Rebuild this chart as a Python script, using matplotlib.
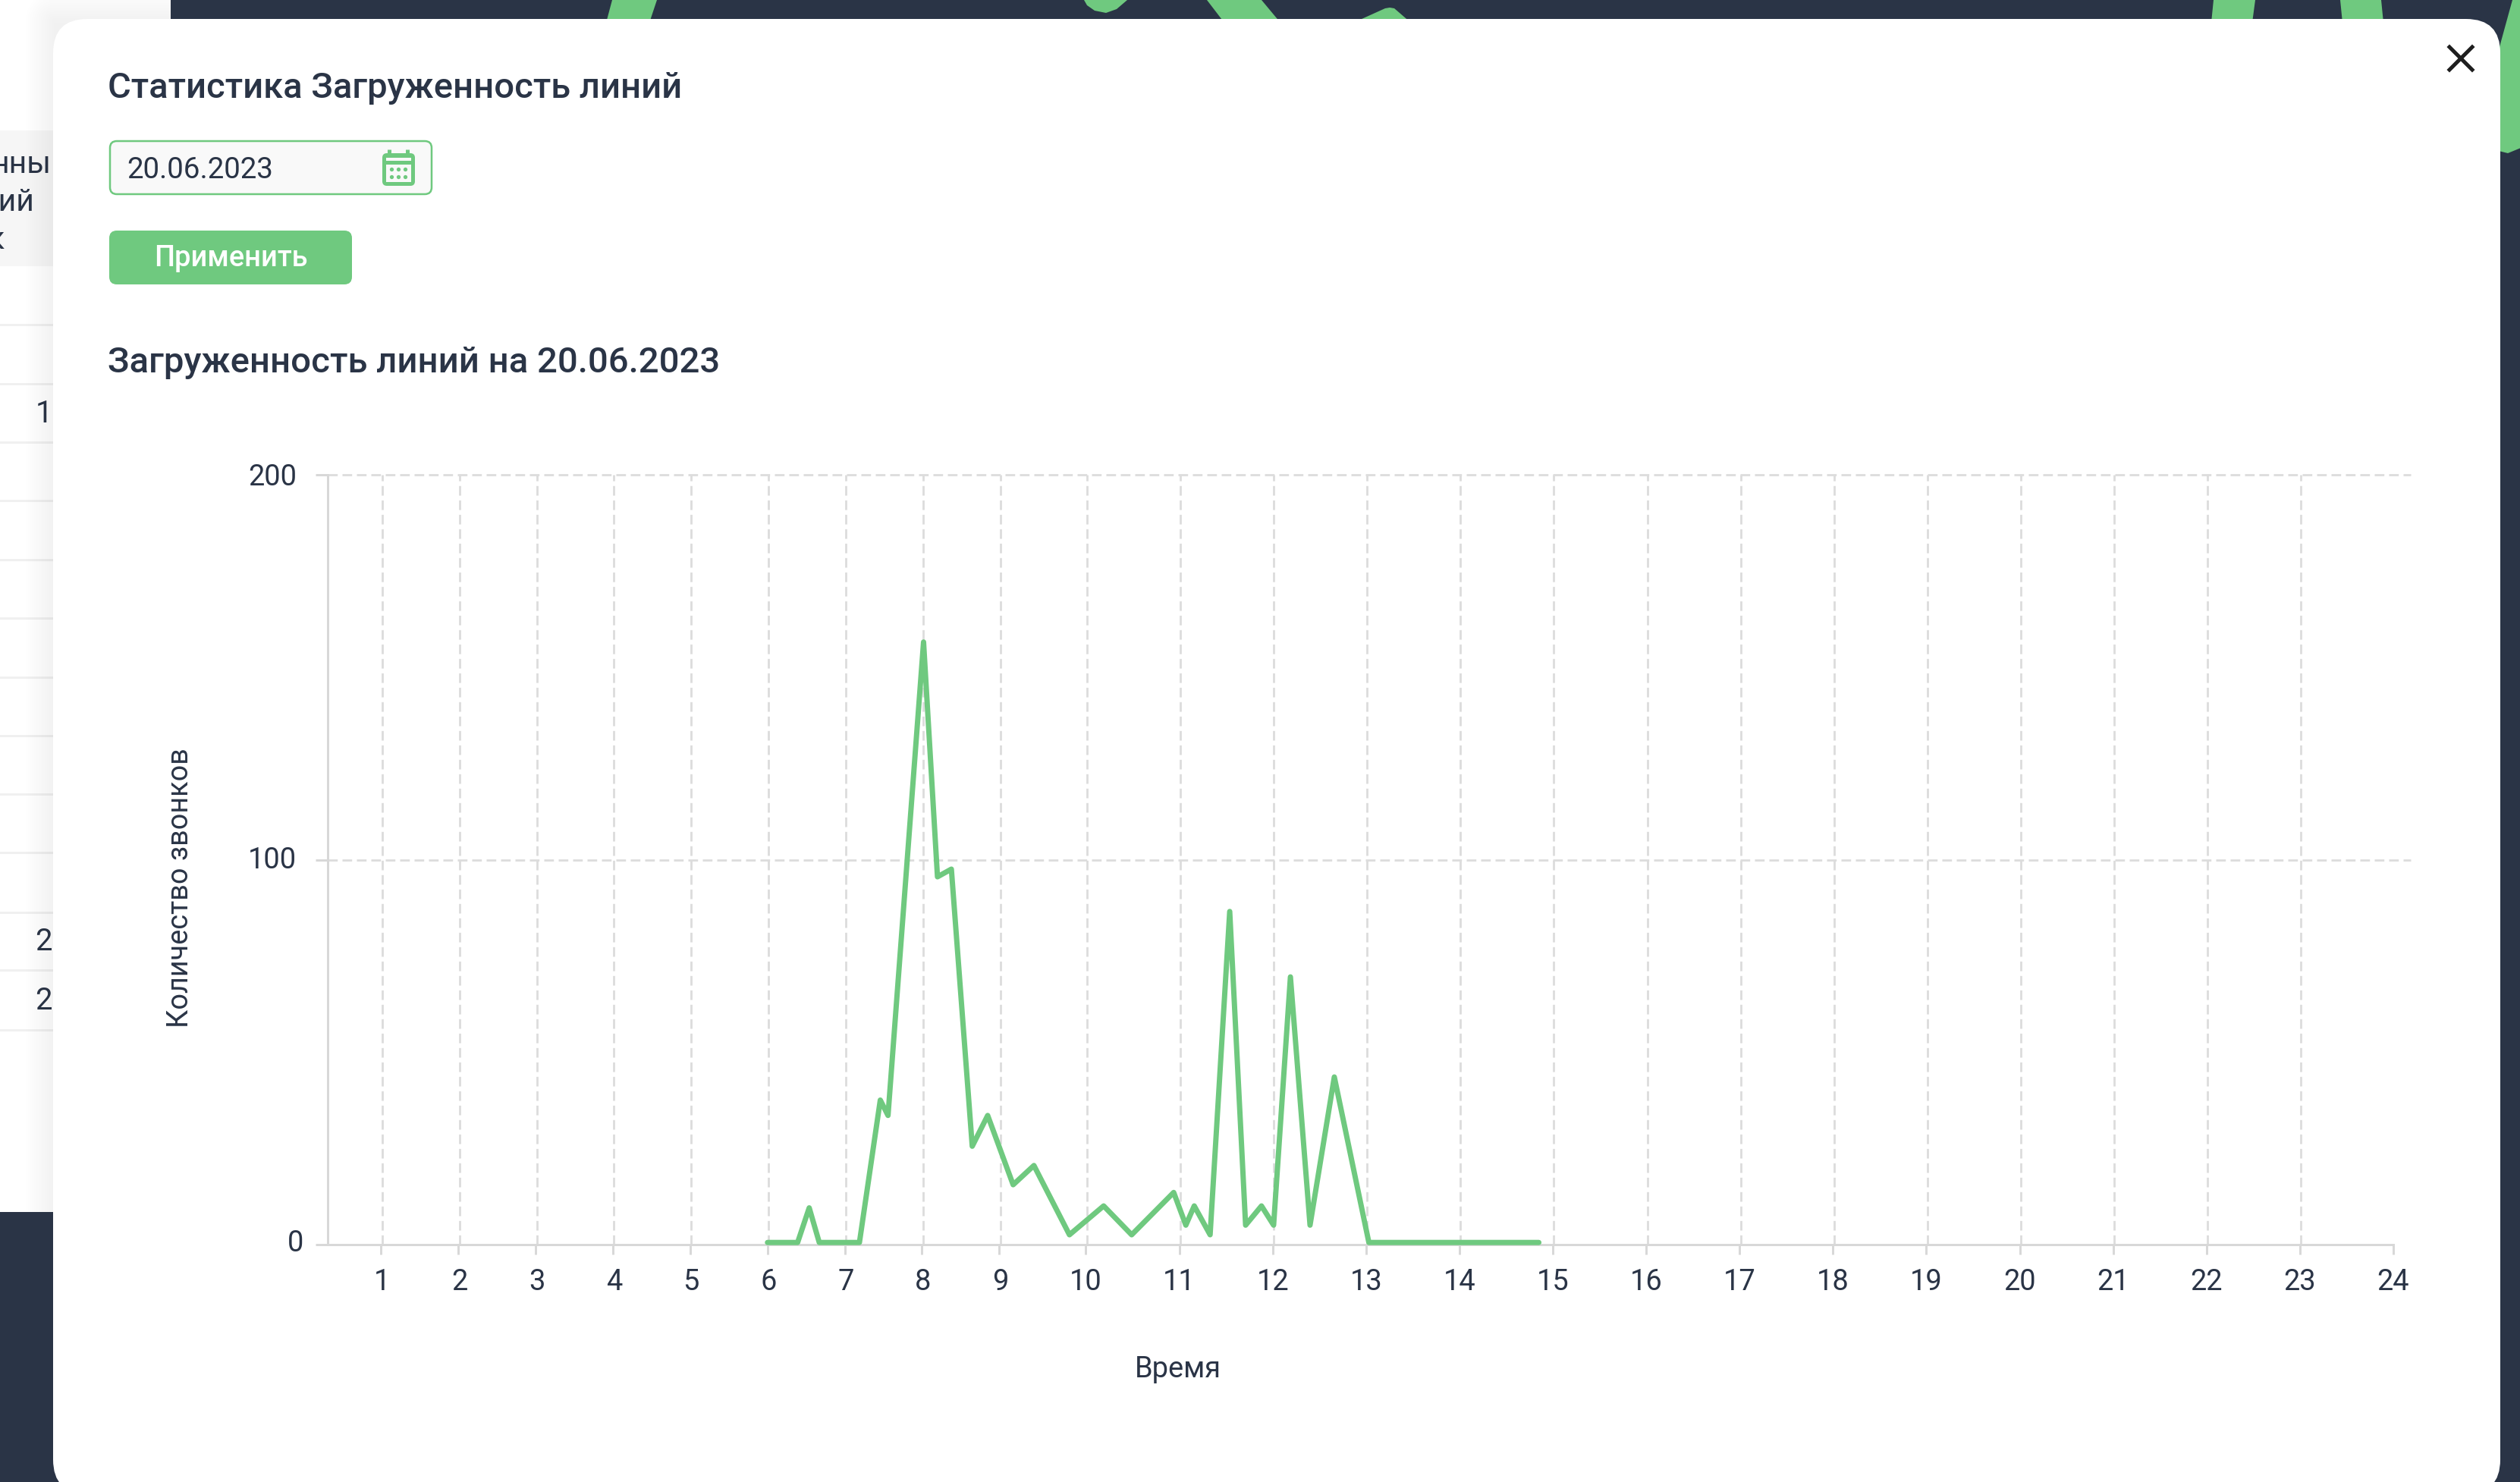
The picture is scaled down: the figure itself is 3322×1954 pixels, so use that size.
import numpy as np
import matplotlib
matplotlib.use("Agg")
import matplotlib.pyplot as plt
from matplotlib.patches import FancyBboxPatch, Rectangle, Polygon
from matplotlib.transforms import ScaledTranslation

# values
hours = [6.0, 6.39, 6.54, 6.67, 7.19, 7.46, 7.56, 8.02, 8.20, 8.38, 8.65, 8.85, 9.16, 9.40, 9.81,
         10.19, 10.49, 10.94, 11.07, 11.16, 11.33, 11.54, 11.71, 11.88, 12.01, 12.19, 12.40, 12.66,
         13.03, 14.85]
calls = [0, 0, 9, 0, 0, 37, 33, 156, 95, 97, 25, 33, 15, 20, 2,
         9.5, 2, 13, 4.5, 9.5, 2, 86, 4.5, 9.5, 4.5, 69, 4.5, 43,
         0, 0]
x_ticks = list(range(1, 25))
y_ticks = [0, 100, 200]

title_top = "Статистика Загруженность линий"
title_chart = "Загруженность линий на 20.06.2023"
date_text = "20.06.2023"
button_text = "Применить"
x_name = "Время"
y_name = "Количество звонков"

W, H = 3323, 1954
DPI = 100
PT = 72 / DPI  # one pixel in points

DARK = "#2a3446"
GREEN = "#6fc97f"
AXIS = "#d8d8d8"
GRID = "#dcdcdc"

plt.rcParams["font.family"] = ["Roboto", "DejaVu Sans"]
plt.rcParams["lines.scale_dashes"] = False

fig = plt.figure(figsize=(W / DPI, H / DPI), dpi=DPI, facecolor=DARK)

# page behind the chart, in pixel coordinates
bg = fig.add_axes([0, 0, 1, 1], zorder=0)
bg.set_xlim(0, W)
bg.set_ylim(H, 0)
bg.axis("off")

bg.add_patch(Rectangle((0, 0), 225, 1598, fc="white", ec="none", zorder=1))
bg.add_patch(Rectangle((0, 172), 225, 179, fc="#f6f6f6", ec="none", zorder=1))
for y in [428, 506, 583, 660, 738, 815, 893, 970, 1047, 1124, 1203, 1279, 1358]:
    bg.plot([0, 225], [y, y], color="#f0f0f0", lw=3 * PT, zorder=2)

# bits of the table that stick out from under the modal
for txt, x, y in [("нный", 92, 228), ("ний", 46, 278), ("к", 6, 328)]:
    bg.text(x, y, txt, ha="right", va="baseline", color=DARK, fontsize=41 * PT, zorder=3)
for txt, y in [("1", 557), ("2", 1253), ("2", 1331)]:
    bg.text(69, y, txt, ha="right", va="baseline", color=DARK, fontsize=40 * PT, zorder=3)

# modal shadow on the white panel
yy, xx = np.mgrid[0:1598:4, 0:225:2]
dist = np.hypot(np.clip(70 - xx, 0, None), np.clip(25 - yy, 0, None))
shadow = np.zeros(xx.shape + (4,))
shadow[..., 3] = 0.055 * np.clip(1 - dist / 40, 0, 1)
bg.imshow(shadow, extent=(0, 225, 1598, 0), aspect="auto", zorder=4, interpolation="bilinear")
bg.set_xlim(0, W)
bg.set_ylim(H, 0)

# green shapes in the dark background
shapes = [
    [(807, 0), (866, 0), (856, 30), (799, 30)],
    [(1429, 0), (1486, 0), (1472, 12), (1458, 17), (1443, 14), (1433, 7)],
    [(1591, 0), (1663, 0), (1688, 30), (1614, 30)],
    [(1784, 30), (1826, 11), (1832, 10), (1838, 11), (1860, 30)],
    [(2918, 0), (2973, 0), (2969, 30), (2915, 30)],
    [(3085, 0), (3139, 0), (3142, 30), (3088, 30)],
    [(3312, 0), (3323, 0), (3323, 195), (3306, 202), (3290, 198), (3290, 80)],
]
for pts in shapes:
    bg.add_patch(Polygon(pts, closed=True, fc=GREEN, ec="none", zorder=1))

# modal
bg.add_patch(FancyBboxPatch((70, 25), 3226, 1944.5, boxstyle="round,pad=0,rounding_size=45",
                            fc="white", ec="none", zorder=5))

bg.text(142, 129, title_top, color=DARK, fontsize=47.2 * PT, fontweight="medium", zorder=6)
bg.text(142, 491, title_chart, color=DARK, fontsize=47.3 * PT, fontweight="medium", zorder=6)

# date input
bg.add_patch(FancyBboxPatch((145, 186), 424, 70, boxstyle="round,pad=0,rounding_size=9",
                            fc="#f9f9f9", ec=GREEN, lw=2.5 * PT, zorder=6))
bg.text(167, 235, date_text, color=DARK, fontsize=38.5 * PT, zorder=7)

# calendar icon
bg.add_patch(FancyBboxPatch((504, 202), 43, 43, boxstyle="round,pad=0,rounding_size=6",
                            fc=GREEN, ec="none", zorder=7))
bg.add_patch(Rectangle((509, 208), 33, 4, fc="#f9f9f9", ec="none", zorder=8))
bg.add_patch(Rectangle((509, 217), 33, 23, fc="#f9f9f9", ec="none", zorder=8))
bg.plot([513, 513], [197, 204], color=GREEN, lw=5 * PT, zorder=7, solid_capstyle="butt")
bg.plot([537, 537], [197, 204], color=GREEN, lw=5 * PT, zorder=7, solid_capstyle="butt")
for yd in [223.3, 233.3]:
    bg.plot([515.7, 525, 534.3], [yd, yd, yd], ls="none", marker="o", ms=3.8, mfc=GREEN, mec="none", zorder=9)

# apply button
bg.add_patch(FancyBboxPatch((144, 304), 320, 71, boxstyle="round,pad=0,rounding_size=10",
                            fc=GREEN, ec="none", zorder=6))
bg.text(304, 351, button_text, color="white", ha="center", fontsize=38 * PT, fontweight="medium", zorder=7)

# close cross
bg.plot([3229, 3259], [62, 92], color="#1e1e1e", lw=5 * PT, zorder=6)
bg.plot([3229, 3259], [92, 62], color="#1e1e1e", lw=5 * PT, zorder=6)

# chart axes: from the y axis at 432 px to the end of the grid at 3178 px
left, right, top, bottom = 432, 3178, 626, 1641
ax = fig.add_axes([left / W, 1 - bottom / H, (right - left) / W, (bottom - top) / H], zorder=1)
ax.patch.set_alpha(0)

# hour spacing on the reference axis changes after 9
scale_hours = [0, 1, 9, 10, 24, 25]
scale_px = [400.7, 502.5, 1317.3, 1431.5, 3155, 3278]


def to_px(v):
    return np.interp(v, scale_hours, scale_px)


def to_hour(v):
    return np.interp(v, scale_px, scale_hours)


ax.set_xscale("function", functions=(to_px, to_hour))
ax.set_xlim(to_hour(left), to_hour(right))
ax.set_ylim(0, 200)
ax.set_xticks(x_ticks)
ax.set_xticklabels([str(v) for v in x_ticks])
ax.set_yticks(y_ticks)
ax.minorticks_off()

dash = (0, (12.7 * PT, 6.3 * PT))
ax.grid(True, color=GRID, lw=2.8 * PT, linestyle=dash)
ax.set_axisbelow(True)
for g in ax.get_xgridlines() + ax.get_ygridlines():
    g.set_clip_on(False)
ax.get_ygridlines()[0].set_visible(False)
ax.get_xgridlines()[-1].set_visible(False)

for s in ["top", "right"]:
    ax.spines[s].set_visible(False)
for s in ["left", "bottom"]:
    ax.spines[s].set_color(AXIS)
    ax.spines[s].set_linewidth(3 * PT)
ax.spines["bottom"].set_bounds(to_hour(left), 24)

ax.tick_params(axis="x", length=13 * PT, width=3 * PT, color=AXIS, labelsize=38 * PT,
               labelcolor=DARK, pad=18 * PT)
ax.tick_params(axis="y", length=16 * PT, width=3 * PT, color=AXIS, labelsize=38 * PT,
               labelcolor=DARK, pad=25 * PT)

# grid of the x axis and the low labels sit a bit right of the tick marks
shift = ScaledTranslation(1.4 * PT / 72, 0, fig.dpi_scale_trans)
for g in ax.get_xgridlines():
    g.set_transform(g.get_transform() + shift)
for val, lab in zip(x_ticks, ax.get_xticklabels()):
    if val < 10:
        lab.set_transform(lab.get_transform() + shift)

# the y labels sit a little off their ticks in the reference
nudges = {0: (9, 6), 100: (0, 3), 200: (0, 0)}
for val, lab in zip(y_ticks, ax.get_yticklabels()):
    dx, dy = nudges[val]
    lab.set_transform(lab.get_transform() + ScaledTranslation(dx * PT / 72, dy * PT / 72, fig.dpi_scale_trans))

# the line is drawn about 3 px above the baseline
line_tr = ax.transData + ScaledTranslation(0, 2.8 * PT / 72, fig.dpi_scale_trans)
ax.plot(hours, calls, color=GREEN, lw=7 * PT, solid_joinstyle="round", solid_capstyle="round",
        clip_on=False, transform=line_tr, zorder=5)

fig.text(1553 / W, 1 - 1805 / H, x_name, color=DARK, fontsize=38 * PT, ha="center", va="center")
fig.text(238 / W, 1 - 1171 / H, y_name, color=DARK, fontsize=37.9 * PT, ha="center", va="center",
         rotation=90)

fig.savefig("out.png", dpi=DPI, facecolor=fig.get_facecolor())
